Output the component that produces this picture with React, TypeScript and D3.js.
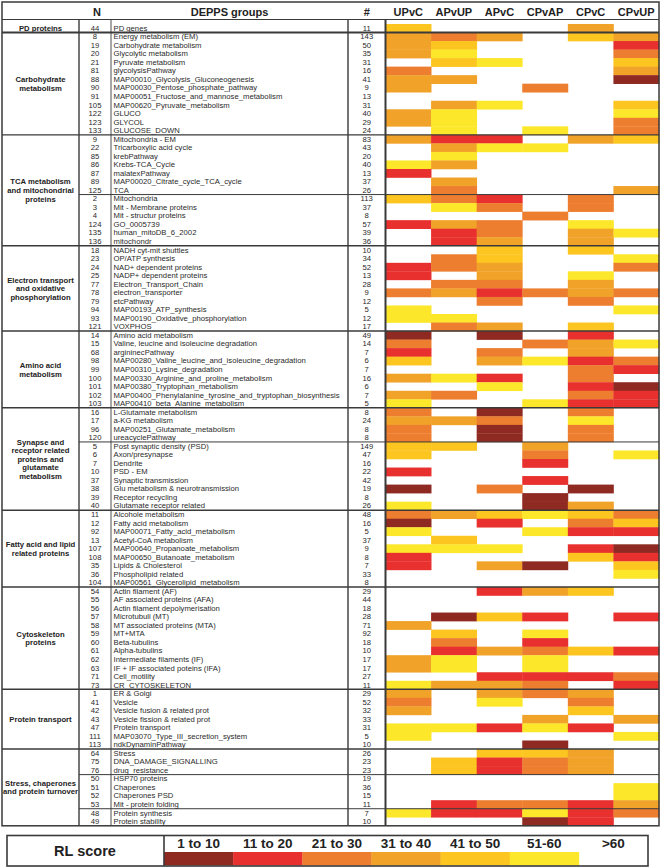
import React from "react";
import * as d3 from "d3";

// comparisons (heatmap columns)
const comparisons = ["UPvC", "APvUP", "APvC", "CPvAP", "CPvC", "CPvUP"];

const groupLabels = [
  ["PD proteins"],
  ["Carbohydrate", "metabolism"],
  ["TCA metabolism", "and mitochondrial", "proteins"],
  ["Electron transport", "and oxidative", "phosphorylation"],
  ["Amino acid", "metabolism"],
  ["Synapse and", "receptor related", "proteins and", "glutamate", "metabolism"],
  ["Fatty acid and lipid", "related proteins"],
  ["Cytoskeleton", "proteins"],
  ["Protein transport"],
  ["Stress, chaperones", "and protein turnover"],
];
const groupSizes = [1, 12, 13, 10, 9, 12, 9, 12, 7, 9];
// rows where a divider starts inside a group
const subBreaks = [20, 49, 88, 92];

const nIds = [
  44, 8, 19, 20, 21, 81, 88, 90, 91, 105, 122, 123, 133, 9, 22, 85, 86, 87, 89,
  125, 2, 3, 4, 124, 135, 136, 18, 23, 24, 25, 77, 78, 79, 94, 93, 121, 14, 15,
  68, 98, 99, 100, 101, 102, 103, 16, 17, 96, 120, 5, 6, 7, 10, 37, 38, 39, 40,
  11, 12, 92, 13, 107, 108, 35, 36, 104, 54, 55, 56, 57, 58, 59, 60, 61, 62, 63,
  71, 73, 1, 41, 42, 43, 47, 111, 113, 64, 75, 76, 50, 51, 52, 53, 48, 49,
];

const deppsNames = [
  "PD genes",
  "Energy metabolism (EM)", "Carbohydrate metabolism", "Glycolytic metabolism",
  "Pyruvate metabolism", "glycolysisPathway", "MAP00010_Glycolysis_Gluconeogenesis",
  "MAP00030_Pentose_phosphate_pathway", "MAP00051_Fructose_and_mannose_metabolism",
  "MAP00620_Pyruvate_metabolism", "GLUCO", "GLYCOL", "GLUCOSE_DOWN",
  "Mitochondria - EM", "Tricarboxylic acid cycle", "krebPathway", "Krebs-TCA_Cycle",
  "malatexPathway", "MAP00020_Citrate_cycle_TCA_cycle", "TCA",
  "Mitochondria", "Mit - Membrane proteins", "Mit - structur proteins", "GO_0005739",
  "human_mitoDB_6_2002", "mitochondr",
  "NADH cyt-mit shuttles", "OP/ATP synthesis", "NAD+ dependent proteins",
  "NADP+ dependent proteins", "Electron_Transport_Chain", "electron_transporter",
  "etcPathway", "MAP00193_ATP_synthesis", "MAP00190_Oxidative_phosphorylation", "VOXPHOS",
  "Amino acid metabolism", "Valine, leucine and isoleucine degradation",
  "argininecPathway", "MAP00280_Valine_leucine_and_isoleucine_degradation",
  "MAP00310_Lysine_degradation", "MAP00330_Arginine_and_proline_metabolism",
  "MAP00380_Tryptophan_metabolism",
  "MAP00400_Phenylalanine_tyrosine_and_tryptophan_biosynthesis",
  "MAP00410_beta_Alanine_metabolism",
  "L-Glutamate metabolism", "a-KG metabolism", "MAP00251_Glutamate_metabolism",
  "ureacyclePathway", "Post synaptic density (PSD)", "Axon/presynapse", "Dendrite",
  "PSD - EM", "Synaptic transmission", "Glu metabolism & neurotransmission",
  "Receptor recycling", "Glutamate receptor related",
  "Alcohole metabolism", "Fatty acid metabolism", "MAP00071_Fatty_acid_metabolism",
  "Acetyl-CoA metabolism", "MAP00640_Propanoate_metabolism",
  "MAP00650_Butanoate_metabolism", "Lipids & Cholesterol", "Phospholipid related",
  "MAP00561_Glycerolipid_metabolism",
  "Actin filament (AF)", "AF associated proteins (AFA)", "Actin filament depolymerisation",
  "Microtubuli (MT)", "MT associated proteins (MTA)", "MT+MTA", "Beta-tubulins",
  "Alpha-tubulins", "Intermediate filaments (IF)", "IF + IF associated poteins (IFA)",
  "Cell_motility", "CR_CYTOSKELETON",
  "ER & Golgi", "Vesicle", "Vesicle fusion & related prot", "Vesicle fission & related prot",
  "Protein transport", "MAP03070_Type_III_secretion_system", "ndkDynaminPathway",
  "Stress", "DNA_DAMAGE_SIGNALLING", "drug_resistance", "HSP70 proteins", "Chaperones",
  "Chaperones PSD", "Mit - protein folding", "Protein synthesis", "Protein stability",
];

const counts = [
  11, 143, 50, 35, 31, 16, 41, 9, 13, 31, 40, 29, 24, 83, 43, 20, 40, 13, 37, 26,
  113, 37, 8, 57, 39, 36, 10, 34, 52, 13, 28, 9, 12, 5, 12, 17, 49, 14, 7, 6, 7,
  16, 6, 7, 5, 8, 24, 8, 8, 149, 47, 16, 22, 42, 19, 8, 26, 48, 16, 5, 37, 9, 8,
  7, 33, 8, 29, 44, 18, 28, 71, 92, 18, 10, 17, 17, 27, 11, 29, 52, 32, 33, 31,
  5, 10, 26, 23, 23, 19, 36, 15, 11, 7, 10,
];

// RL score class per row and comparison: 1 = 1-10 ... 6 = 51-60, 0 = >60
const rlClass = [
  [5, 0, 0, 0, 4, 0],
  [4, 3, 4, 0, 5, 4], [4, 5, 0, 0, 0, 2], [4, 6, 0, 0, 0, 3], [0, 5, 6, 0, 0, 5],
  [3, 0, 0, 0, 0, 4], [4, 4, 0, 0, 0, 1], [4, 0, 0, 3, 0, 0], [0, 0, 0, 0, 0, 0],
  [0, 4, 6, 0, 0, 5], [4, 6, 0, 0, 0, 6], [4, 6, 0, 0, 0, 3], [0, 6, 0, 6, 0, 3],
  [4, 2, 2, 0, 4, 5], [0, 4, 6, 6, 0, 0], [0, 6, 0, 0, 0, 0], [6, 4, 0, 0, 0, 0],
  [2, 0, 0, 0, 0, 0], [0, 4, 0, 0, 0, 0], [0, 3, 0, 0, 0, 4],
  [5, 3, 2, 0, 3, 0], [0, 6, 3, 0, 3, 0], [0, 0, 0, 3, 0, 0], [2, 4, 3, 0, 6, 0],
  [0, 2, 3, 0, 4, 6], [0, 2, 4, 0, 4, 0],
  [0, 0, 5, 0, 5, 0], [0, 3, 5, 0, 0, 6], [2, 3, 4, 0, 0, 3], [2, 0, 4, 0, 6, 0],
  [0, 3, 3, 0, 4, 0], [3, 4, 2, 3, 4, 3], [0, 0, 3, 0, 3, 0], [6, 0, 0, 0, 0, 6],
  [6, 6, 0, 0, 0, 0], [0, 3, 4, 0, 5, 0],
  [1, 0, 1, 0, 2, 0], [3, 0, 0, 3, 4, 6], [2, 0, 3, 0, 4, 0], [5, 0, 4, 6, 2, 3],
  [0, 0, 0, 0, 3, 2], [4, 6, 2, 0, 3, 0], [0, 0, 6, 0, 2, 1], [4, 3, 0, 0, 3, 2],
  [6, 0, 0, 6, 2, 2],
  [3, 0, 1, 0, 3, 0], [4, 4, 3, 0, 6, 0], [3, 0, 1, 0, 3, 0], [3, 0, 1, 0, 3, 0],
  [5, 5, 0, 4, 0, 0], [5, 0, 0, 3, 0, 6], [0, 0, 0, 2, 0, 0], [2, 0, 0, 0, 0, 0],
  [0, 0, 0, 2, 0, 0], [1, 0, 3, 0, 1, 0], [0, 0, 0, 1, 0, 0], [6, 0, 0, 1, 4, 0],
  [3, 4, 5, 6, 5, 3], [1, 0, 2, 0, 3, 5], [6, 0, 0, 6, 2, 2], [0, 5, 0, 0, 0, 0],
  [6, 6, 6, 0, 2, 1], [2, 0, 0, 0, 5, 2], [2, 0, 4, 1, 0, 5], [0, 0, 0, 0, 0, 6],
  [0, 0, 0, 0, 0, 0],
  [0, 0, 2, 4, 5, 0], [0, 0, 0, 0, 0, 0], [0, 0, 0, 0, 0, 0], [0, 1, 5, 2, 0, 2],
  [4, 0, 0, 0, 0, 0], [0, 5, 0, 6, 0, 0], [0, 3, 0, 2, 0, 0], [0, 2, 4, 3, 5, 2],
  [4, 6, 0, 6, 0, 0], [4, 6, 0, 6, 0, 0], [0, 0, 2, 2, 2, 3], [6, 4, 4, 3, 0, 2],
  [4, 0, 4, 3, 4, 0], [3, 0, 6, 0, 3, 0], [4, 0, 0, 0, 5, 0], [0, 0, 0, 4, 0, 4],
  [6, 6, 2, 6, 2, 0], [6, 0, 0, 0, 0, 6], [0, 0, 0, 1, 0, 0],
  [0, 0, 5, 5, 4, 0], [0, 5, 2, 3, 4, 0], [0, 5, 2, 3, 4, 0], [0, 0, 0, 0, 0, 0],
  [0, 0, 0, 0, 0, 6], [0, 0, 0, 0, 0, 6], [0, 2, 3, 3, 2, 4], [6, 2, 2, 6, 2, 3],
  [0, 0, 0, 1, 2, 0],
];

const legendLabels = ["1 to 10", "11 to 20", "21 to 30", "31 to 40", "41 to 50", "51-60", ">60"];
const palette = ["#ffffff", "#8e2a22", "#e8302f", "#ee7e2f", "#f1a229", "#fcc51f", "#fde72a"];

const FONT = "'Liberation Sans', Arial, sans-serif";
const LINE = "#3a3a3a";

const App = () => {
  const W = 661;
  const H = 868;
  const left = 2;
  const right = 659;
  const xGroup = 79;
  const xN = 111;
  const xHash = 348;
  const xHeat = 385.5;
  const rowH = 8.53;

  const y = d3.scaleLinear().domain([1, 94]).range([32.5, 32.5 + 93 * rowH]);
  const x = d3.scaleBand().domain(comparisons).range([xHeat, right]).padding(0);
  const color = d3.scaleOrdinal<number, string>().domain(d3.range(7)).range(palette);

  // first row index of each group (plain array, not a typed one)
  const groupStarts: number[] = Array.from(d3.cumsum([0, ...groupSizes])).slice(0, groupSizes.length);
  const tableBottom = y(94);

  const legX = d3.scaleBand().domain(legendLabels).range([164, 648]);

  return (
    <svg width={W} height={H} style={{ display: "block", position: "absolute", left: 0, top: 0 }}>
      <rect width={W} height={H} fill="#fff" />

      {/* heatmap cells */}
      {rlClass.map((row, i) =>
        row.map((c, j) =>
          c === 0 ? null : (
            <rect
              key={`c${i}-${j}`}
              x={x(comparisons[j])!}
              y={y(i)}
              width={x.bandwidth() + 0.4}
              height={y(i + 1) - y(i) + 0.3}
              fill={color(c)}
            />
          )
        )
      )}

      {/* headers */}
      <g fontFamily={FONT} fontWeight="bold" fontSize={11} fill="#222" textAnchor="middle">
        <text x={(xGroup + xN) / 2 + 2} y={16}>N</text>
        <text x={(xN + xHash) / 2} y={16}>DEPPS groups</text>
        <text x={(xHash + xHeat) / 2} y={16}>#</text>
        {comparisons.map((c) => (
          <text key={c} x={x(c)! + x.bandwidth() / 2} y={16}>{c}</text>
        ))}
      </g>

      {/* row text */}
      <g fontFamily={FONT} fontSize={7.7} fill="#2a2a2a">
        {nIds.map((n, i) => {
          const cy = (y(i) + y(i + 1)) / 2;
          return (
            <g key={`r${i}`}>
              <text x={(xGroup + xN) / 2} y={cy} dy="0.33em" textAnchor="middle">{n}</text>
              <text x={xN + 2.5} y={cy} dy="0.33em">{deppsNames[i]}</text>
              <text x={(xHash + xHeat) / 2} y={cy} dy="0.33em" textAnchor="middle">{counts[i]}</text>
            </g>
          );
        })}
      </g>

      {/* group labels */}
      <g fontFamily={FONT} fontWeight="bold" fontSize={7.7} fill="#222" textAnchor="middle">
        {groupLabels.map((lines, g) => {
          const top = y(groupStarts[g]);
          const bottom = y(groupStarts[g] + groupSizes[g]);
          const mid = (top + bottom) / 2;
          const lh = 8.6;
          return (
            <text key={`g${g}`} x={(left + xGroup) / 2} y={mid - ((lines.length - 1) * lh) / 2}>
              {lines.map((l, k) => (
                <tspan key={k} x={(left + xGroup) / 2} dy={k === 0 ? "0.36em" : lh}>{l}</tspan>
              ))}
            </text>
          );
        })}
      </g>

      {/* grid lines */}
      <g stroke={LINE} fill="none">
        <line x1={left} x2={right} y1={19.5} y2={19.5} strokeWidth={1} />
        {groupStarts.slice(1).map((s) => (
          <line key={`gl${s}`} x1={left} x2={right} y1={y(s)} y2={y(s)} strokeWidth={s === 1 ? 2 : 1.4} />
        ))}
        {subBreaks.map((s) => (
          <line key={`sb${s}`} x1={xGroup} x2={right} y1={y(s)} y2={y(s)} strokeWidth={1} />
        ))}
        <line x1={xGroup} x2={xGroup} y1={19.5} y2={tableBottom} strokeWidth={1.4} />
        <line x1={xN} x2={xN} y1={19.5} y2={tableBottom} strokeWidth={0.9} />
        <line x1={xHash} x2={xHash} y1={19.5} y2={tableBottom} strokeWidth={1.4} />
        <line x1={xHeat} x2={xHeat} y1={19.5} y2={tableBottom} strokeWidth={2} />
        <rect x={left} y={2} width={right - left} height={tableBottom - 2} strokeWidth={1.5} />
      </g>

      {/* legend */}
      <g fontFamily={FONT} fontWeight="bold" fill="#222">
        {legendLabels.map((l, k) => (
          <g key={l}>
            {k < 6 && (
              <rect x={legX(l)!} y={852} width={legX.bandwidth() + 0.3} height={13.5} fill={color(k + 1)} />
            )}
            <text x={legX(l)! + legX.bandwidth() / 2} y={848} textAnchor="middle" fontSize={13.5}>{l}</text>
          </g>
        ))}
        <text x={85} y={856} textAnchor="middle" fontSize={14.5}>RL score</text>
        <rect x={7} y={835.5} width={641} height={30.5} fill="none" stroke={LINE} strokeWidth={1.6} />
        <line x1={164} x2={164} y1={835.5} y2={866} stroke={LINE} strokeWidth={1.6} />
      </g>
    </svg>
  );
};

export default App;
